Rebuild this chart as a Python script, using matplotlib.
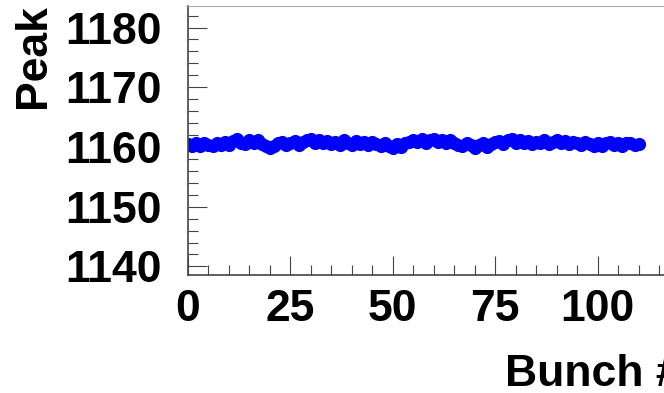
import matplotlib
matplotlib.use("Agg")
import matplotlib.pyplot as plt
import numpy as np
from matplotlib.ticker import MultipleLocator

plt.rcParams['font.family'] = ['Liberation Sans', 'DejaVu Sans']
plt.rcParams['font.weight'] = 'bold'

# peak position per bunch
bunch = np.arange(0, 111)
peak = [
    1160.5, 1160.1, 1160.6, 1160.2, 1160.7, 1160.3, 1160.1, 1160.6, 1160.3, 1160.8,
    1160.4, 1161.0, 1161.3, 1160.7, 1160.5, 1161.1, 1160.6, 1161.2, 1160.5, 1160.2,
    1159.8, 1160.1, 1160.6, 1160.9, 1160.3, 1160.7, 1161.0, 1160.4, 1160.8, 1161.1,
    1161.3, 1160.7, 1161.2, 1160.6, 1161.0, 1160.5, 1160.9, 1160.4, 1161.1, 1160.6,
    1160.4, 1161.0, 1160.5, 1160.9, 1160.4, 1160.8, 1160.5, 1160.2, 1160.7, 1160.1,
    1159.9, 1160.5, 1160.0, 1160.6, 1160.9, 1161.2, 1160.8, 1161.3, 1160.7, 1161.1,
    1161.4, 1160.8, 1161.2, 1160.7, 1161.1, 1160.6, 1160.3, 1160.1, 1160.7, 1160.3,
    1159.9, 1160.4, 1160.6, 1160.0, 1160.5, 1160.8, 1161.0, 1160.5, 1161.1, 1161.3,
    1160.7, 1161.2, 1160.6, 1161.0, 1160.5, 1160.9, 1160.6, 1161.1, 1160.5, 1160.9,
    1161.2, 1160.6, 1161.0, 1160.5, 1160.9, 1160.6, 1160.3, 1160.9, 1160.5, 1160.2,
    1160.7, 1160.2, 1160.6, 1160.8, 1160.3, 1160.7, 1160.2, 1160.6, 1160.7, 1160.3,
    1160.5,
]
x_ticks = [0, 25, 50, 75, 100]
y_ticks = [1140, 1150, 1160, 1170, 1180]

fig = plt.figure(figsize=(6.64, 3.93), dpi=100)
W, H = 664, 393
ax = fig.add_axes([188 / W, (H - 275) / H, 120 * 4.097 / W, 269 / H])

ax.plot(bunch, peak, 'o', color='#0000ff', markersize=9.5, markeredgewidth=0)

ax.set_xlim(0, 120)
ax.set_ylim(1138.56, 1183.6)
ax.set_xticks(x_ticks)
ax.set_yticks(y_ticks)
ax.xaxis.set_minor_locator(MultipleLocator(5))
ax.yaxis.set_minor_locator(MultipleLocator(2))

ax.tick_params(which='both', direction='in', color='#444444', width=0.8,
               labelsize=32)
ax.tick_params(which='major', length=13.5)
ax.tick_params(which='minor', length=7)
ax.tick_params(axis='y', pad=19)
ax.tick_params(axis='x', pad=10)
for lab in ax.get_xticklabels() + ax.get_yticklabels():
    lab.set_fontweight('bold')

for side in ['left', 'bottom']:
    ax.spines[side].set_color('#444444')
    ax.spines[side].set_linewidth(1.2)
ax.spines['top'].set_color('#aaaaaa')
ax.spines['top'].set_linewidth(0.8)
ax.spines['right'].set_visible(False)

fig.text(54 / W, 1 - 4 / H, 'Peak', rotation=90, ha='right', va='top',
         fontsize=32, fontweight='bold')
fig.text(505 / W, 1 - 386 / H, 'Bunch #', ha='left', va='baseline',
         fontsize=32, fontweight='bold')

fig.savefig('out.png', dpi=100)
